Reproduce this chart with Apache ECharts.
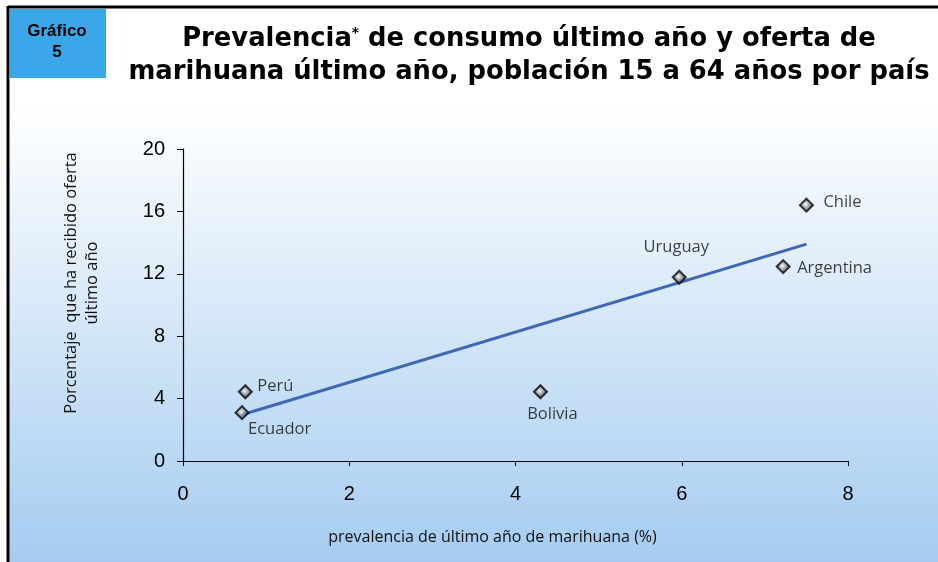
<!DOCTYPE html>
<html><head><meta charset="utf-8">
<script src="https://cdn.jsdelivr.net/npm/echarts@6/dist/echarts.min.js"></script>
<style>html,body{margin:0;padding:0;background:#fff}#c{width:938px;height:562px}</style>
</head><body><div id="c"></div>
<script>
const countries = ['Chile','Argentina','Uruguay','Bolivia','Perú','Ecuador'];
const prevalence = [7.50, 7.22, 5.97, 4.30, 0.75, 0.71];
const offerPct = [16.4, 12.46, 11.78, 4.44, 4.44, 3.1];
const trendX = [0.70, 7.50];
const trendY = [2.95, 13.9];
const xTicks = [0, 2, 4, 6, 8];
const yTicks = [0, 4, 8, 12, 16, 20];

const labelStyle = {
  'Chile':     {align:'left',   offset:[17,-3]},
  'Argentina': {align:'left',   offset:[14,2]},
  'Uruguay':   {align:'center', offset:[-3,-30]},
  'Bolivia':   {align:'center', offset:[12,23]},
  'Perú':      {align:'left',   offset:[12,-5]},
  'Ecuador':   {align:'left',   offset:[6,17]}
};

const pts = countries.map((n,i)=>({
  name:n, value:[prevalence[i], offerPct[i]],
  label:{show:true, position:'inside', verticalAlign:'middle',
         align:labelStyle[n].align, offset:labelStyle[n].offset}
}));

const chart = echarts.init(document.getElementById('c'));
chart.setOption({
  animation:false,
  backgroundColor:'#ffffff',
  title:{
    left:524, top:18, textAlign:'center',
    text:'{a|Prevalencia}{s|*}{a| de consumo último año y oferta de}\n{a|marihuana último año, población 15 a 64 años por país}',
    textStyle:{
      rich:{
        a:{fontFamily:'DejaVu Sans', fontWeight:'bold', fontSize:25.8, color:'#000', lineHeight:33},
        s:{fontFamily:'DejaVu Sans', fontWeight:'bold', fontSize:14, color:'#000', lineHeight:33, padding:[0,0,13,0]}
      }
    }
  },
  graphic:[
    {type:'rect', z:-10, silent:true, shape:{x:9, y:106, width:929, height:456},
     style:{fill:new echarts.graphic.LinearGradient(0,0,0,1,[{offset:0,color:'#ffffff'},{offset:0.45,color:'#d7e8f8'},{offset:1,color:'#a5ccf0'}])}},
    {type:'line', z:100, shape:{x1:8, y1:7, x2:938, y2:7}, style:{stroke:'#000', lineWidth:3}},
    {type:'line', z:100, shape:{x1:8, y1:6, x2:8, y2:562}, style:{stroke:'#000', lineWidth:3}},
    {type:'rect', z:100, shape:{x:10, y:9, width:96, height:69}, style:{fill:'#3ba7e9'}},
    {type:'text', z:101, style:{x:57, y:42, text:'Gráfico\n5', textAlign:'center', textVerticalAlign:'middle',
      font:'bold 17px "Liberation Sans", Arial', fill:'#000', lineHeight:21}}
  ],
  grid:{left:183, right:90, top:149, bottom:101},
  xAxis:{
    type:'value', min:xTicks[0], max:xTicks[xTicks.length-1], interval:2,
    name:'prevalencia de último año de marihuana (%)', nameLocation:'middle', nameGap:68,
    nameTextStyle:{fontFamily:'Open Sans', fontSize:16, color:'#111', padding:[0,46,0,0]},
    splitLine:{show:false},
    axisLine:{lineStyle:{color:'#000', width:1.2}},
    axisTick:{show:true, length:5, lineStyle:{color:'#000'}},
    axisLabel:{fontFamily:'Liberation Sans', fontSize:20, color:'#000', margin:23}
  },
  yAxis:{
    type:'value', min:yTicks[0], max:yTicks[yTicks.length-1], interval:4,
    name:'Porcentaje  que ha recibido oferta\núltimo año', nameLocation:'middle', nameGap:80, nameRotate:90,
    nameTextStyle:{fontFamily:'Open Sans', fontSize:16.5, color:'#111', lineHeight:21, padding:[0,0,0,44]},
    splitLine:{show:false},
    axisLine:{show:true, lineStyle:{color:'#000', width:1.2}},
    axisTick:{show:true, length:6, lineStyle:{color:'#000'}},
    axisLabel:{fontFamily:'Liberation Sans', fontSize:20, color:'#000', margin:18}
  },
  series:[
    {type:'line', data:trendX.map((x,i)=>[x,trendY[i]]), symbol:'none', z:3,
     lineStyle:{color:'#3d68b3', width:3}},
    {type:'scatter', data:pts, symbol:'diamond', symbolSize:13, z:4,
     itemStyle:{color:new echarts.graphic.RadialGradient(0.45,0.45,0.55,[{offset:0,color:'#ffffff'},{offset:0.4,color:'#999999'},{offset:1,color:'#2e2e2e'}]),
       borderColor:'#0a0a14', borderWidth:2},
     label:{formatter:'{b}', fontFamily:'Open Sans', fontSize:16.5, color:'#111'}}
  ]
});
</script></body></html>
